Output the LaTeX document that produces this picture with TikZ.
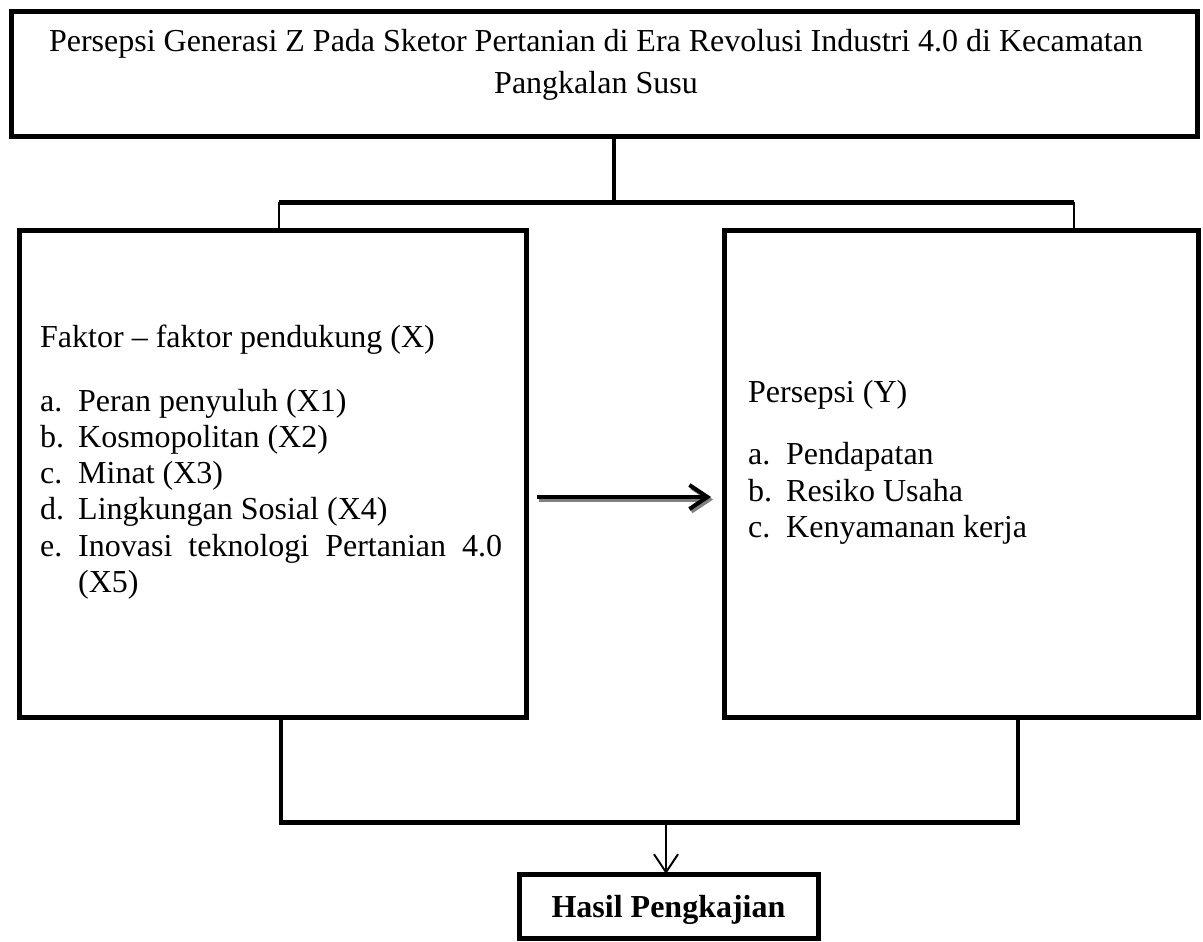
\documentclass[tikz,border=0pt]{standalone}
\usepackage{fontspec}
\setmainfont{Liberation Serif}
\usetikzlibrary{arrows.meta}
\begin{document}
\begin{tikzpicture}[x=1pt,y=-1pt,
  box/.style={draw,line width=5pt,inner sep=0pt,outer sep=0pt},
  txt/.style={inner sep=0pt,anchor=base west,font=\fontsize{32}{36}\selectfont},
  thinline/.style={line width=1.5pt},
  midline/.style={line width=4pt},
  barb/.style={-{Straight Barb[length=18pt,width=24pt]}}]
\useasboundingbox (0,0) rectangle (1203,942);
% boxes
\node[box,minimum width=1186pt,minimum height=124pt] (top) at (604,74) {};
\node[box,minimum width=506.5pt,minimum height=487pt] (left) at (272.75,473.5) {};
\node[box,minimum width=474pt,minimum height=487pt] (right) at (961,473.5) {};
\node[box,minimum width=299pt,minimum height=64pt] (result) at (668.5,906) {};
% title
\node[txt,anchor=base] (t1) at (596,52) {Persepsi Generasi Z Pada Sketor Pertanian di Era Revolusi Industri 4.0 di Kecamatan};
\node[txt,anchor=base] (t2) at (596,93) {Pangkalan Susu};
% left box text
\node[txt] (xh) at (40,347) {Faktor -- faktor pendukung (X)};
\node[txt] (xa) at (40,411) {a.};
\node[txt] (xat) at (78,411) {Peran penyuluh (X1)};
\node[txt] (xb) at (40,447) {b.};
\node[txt] (xbt) at (78,447) {Kosmopolitan (X2)};
\node[txt] (xc) at (40,483) {c.};
\node[txt] (xct) at (78,483) {Minat (X3)};
\node[txt] (xd) at (40,519) {d.};
\node[txt] (xdt) at (78,519) {Lingkungan Sosial (X4)};
\node[txt] (xe) at (40,556) {e.};
\node[txt] (xet) at (78,556) {\makebox[424pt][s]{Inovasi teknologi Pertanian 4.0}};
\node[txt] (xet2) at (78,592) {(X5)};
% right box text
\node[txt] (yh) at (748,402) {Persepsi (Y)};
\node[txt] (ya) at (748,464) {a.};
\node[txt] (yat) at (786,464) {Pendapatan};
\node[txt] (yb) at (748,501) {b.};
\node[txt] (ybt) at (786,501) {Resiko Usaha};
\node[txt] (yc) at (748,537) {c.};
\node[txt] (yct) at (786,537) {Kenyamanan kerja};
% result text
\node[txt,anchor=base,font=\fontsize{32}{36}\selectfont\bfseries] (rt) at (668.5,917) {Hasil Pengkajian};
% top connector
\coordinate (jn) at (614,202);
\coordinate (bl) at (279,202);
\coordinate (br) at (1074,202);
\draw[midline] (top.south -| jn) -- (jn);
\draw[line width=5pt] (bl) -- (br);
\draw[thinline] (bl) -- (bl |- left.north);
\draw[thinline] (br) -- (br |- right.north);
% middle arrow
\coordinate (a1) at (537,497);
\coordinate (a2) at (711,497);
\draw[midline,barb,gray] ([shift={(2,2.5)}]a1) -- ([shift={(2,2.5)}]a2);
\draw[midline,barb] (a1) -- (a2);
% bottom connector
\coordinate (ll) at (281,822);
\coordinate (rr) at (1018,822);
\coordinate (mm) at (666,822);
\draw[midline] (ll |- left.south) -- (ll);
\draw[midline] (rr |- right.south) -- (rr);
\draw[line width=5pt] ([xshift=-2pt]ll) -- ([xshift=2pt]rr);
\draw[line width=2pt,barb] (mm) -- (mm |- result.north);
\end{tikzpicture}
\end{document}
